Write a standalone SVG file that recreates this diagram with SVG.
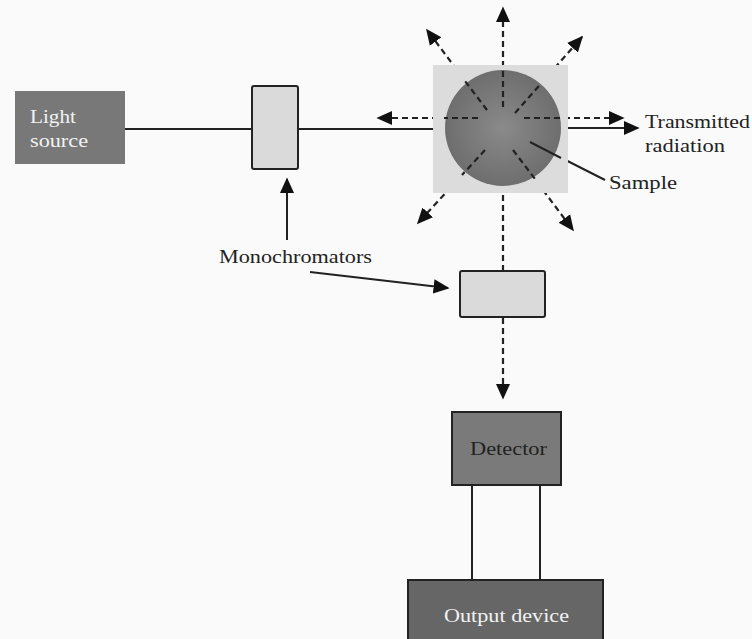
<svg xmlns="http://www.w3.org/2000/svg" width="752" height="639" viewBox="0 0 752 639">
<style>
.t{font-family:"Liberation Serif","DejaVu Serif","Times New Roman",serif;font-size:19px;fill:#222}
.w{fill:#f2f2f2}
.ln{stroke:#222;stroke-width:2;fill:none}
.ds{stroke:#222;stroke-width:2.2;fill:none;stroke-dasharray:6,4}
.mono{fill:#dadada;stroke:#222;stroke-width:2}
</style>
<defs>
<marker id="ahb" viewBox="0 0 10 10" refX="9" refY="5" markerWidth="16" markerHeight="16" markerUnits="userSpaceOnUse" orient="auto">
<path d="M0,0.5 L10,5 L0,9.5 z" fill="#111"/>
</marker>
<radialGradient id="sg" cx="0.5" cy="0.5" r="0.5">
<stop offset="0" stop-color="#8a8a8a"/>
<stop offset="1" stop-color="#6e6e6e"/>
</radialGradient>
</defs>
<rect width="752" height="639" fill="#fafafa"/>
<g id="connectors">
<line class="ln" x1="125" y1="129" x2="252" y2="129"/>
<line class="ln" x1="298" y1="129" x2="433" y2="129"/>
<line class="ln" x1="568" y1="128" x2="638" y2="128" marker-end="url(#ahb)"/>
<line class="ds" x1="478" y1="118" x2="378" y2="118" marker-end="url(#ahb)"/>
<line class="ds" x1="524" y1="118" x2="623" y2="118" marker-end="url(#ahb)"/>
<line class="ds" x1="503" y1="107" x2="503" y2="8" marker-end="url(#ahb)"/>
<line class="ds" x1="487" y1="110" x2="427" y2="30" marker-end="url(#ahb)"/>
<line class="ds" x1="515" y1="113" x2="582" y2="37" marker-end="url(#ahb)"/>
<line class="ds" x1="485" y1="150" x2="418" y2="223" marker-end="url(#ahb)"/>
<line class="ds" x1="513" y1="150" x2="573" y2="230" marker-end="url(#ahb)"/>
<line class="ds" x1="503" y1="195" x2="503" y2="271"/>
<line class="ds" x1="503" y1="318" x2="503" y2="398" marker-end="url(#ahb)"/>
<line class="ln" x1="530" y1="142" x2="605" y2="180"/>
<line class="ln" x1="287" y1="240" x2="287" y2="179" marker-end="url(#ahb)"/>
<line class="ln" x1="310" y1="272" x2="448" y2="288" marker-end="url(#ahb)"/>
<line class="ln" x1="472" y1="485" x2="472" y2="580"/>
<line class="ln" x1="540" y1="485" x2="540" y2="580"/>
</g>
<g id="light-source">
<rect x="15" y="91" width="110" height="73" fill="#787878"/>
<text class="t w" x="30" y="123" textLength="46" lengthAdjust="spacingAndGlyphs">Light</text>
<text class="t w" x="30" y="147" textLength="58" lengthAdjust="spacingAndGlyphs">source</text>
</g>
<g id="monochromator1">
<rect class="mono" x="252" y="86" width="46" height="83" rx="2"/>
</g>
<g id="sample">
<rect x="433" y="65" width="135" height="128" fill="#dcdcdc"/>
<circle cx="503" cy="128" r="58" fill="url(#sg)"/>
<line class="ds" x1="478" y1="118" x2="444" y2="118"/>
<line class="ds" x1="524" y1="118" x2="561" y2="118"/>
<line class="ds" x1="503" y1="107" x2="503" y2="70"/>
<line class="ds" x1="487" y1="110" x2="465" y2="81"/>
<line class="ds" x1="515" y1="113" x2="539" y2="86"/>
<line class="ds" x1="485" y1="150" x2="462" y2="175"/>
<line class="ds" x1="513" y1="150" x2="535" y2="179"/>
<line class="ln" x1="530" y1="142" x2="561" y2="158"/>
</g>
<g id="labels">
<text class="t" x="645" y="128" textLength="105" lengthAdjust="spacingAndGlyphs">Transmitted</text>
<text class="t" x="645" y="152" textLength="80" lengthAdjust="spacingAndGlyphs">radiation</text>
<text class="t" x="609" y="189" textLength="68" lengthAdjust="spacingAndGlyphs">Sample</text>
<text class="t" x="219" y="263" textLength="153" lengthAdjust="spacingAndGlyphs">Monochromators</text>
</g>
<g id="monochromator2">
<rect class="mono" x="460" y="271" width="85" height="46" rx="2"/>
</g>
<g id="detector">
<rect x="452" y="412" width="109" height="73" fill="#7a7a7a" stroke="#222" stroke-width="2"/>
<text class="t" x="470" y="455" textLength="77" lengthAdjust="spacingAndGlyphs">Detector</text>
</g>
<g id="output-device">
<rect x="408" y="580" width="195" height="65" fill="#666" stroke="#222" stroke-width="2"/>
<text class="t w" x="444" y="622" textLength="125" lengthAdjust="spacingAndGlyphs">Output device</text>
</g>
</svg>
